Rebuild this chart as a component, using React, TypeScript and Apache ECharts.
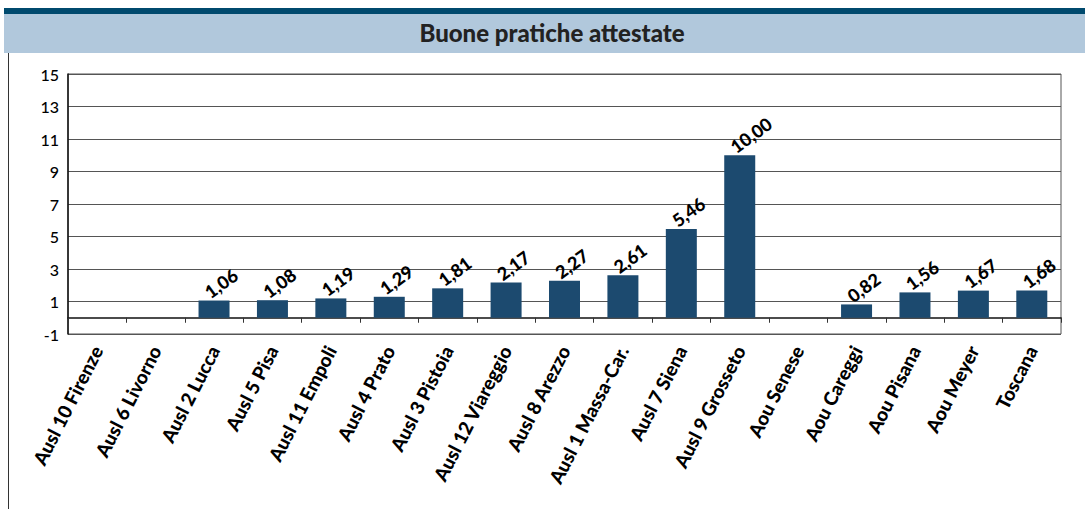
import React, { useEffect, useRef } from "react";
import * as echarts from "echarts";

const title = "Buone pratiche attestate";
const categories = [
  "Ausl 10 Firenze",
  "Ausl 6 Livorno",
  "Ausl 2 Lucca",
  "Ausl 5 Pisa",
  "Ausl 11 Empoli",
  "Ausl 4 Prato",
  "Ausl 3 Pistoia",
  "Ausl 12 Viareggio",
  "Ausl 8 Arezzo",
  "Ausl 1 Massa-Car.",
  "Ausl 7 Siena",
  "Ausl 9 Grosseto",
  "Aou Senese",
  "Aou Careggi",
  "Aou Pisana",
  "Aou Meyer",
  "Toscana",
];
const values: (number | null)[] = [
  null, null, 1.06, 1.08, 1.19, 1.29, 1.81, 2.17, 2.27, 2.61, 5.46, 10.0, null, 0.82, 1.56, 1.67, 1.68,
];
const yTicks = [-1, 1, 3, 5, 7, 9, 11, 13, 15];

const FONT = "Lato, 'DejaVu Sans', sans-serif";

export default function App() {
  const ref = useRef<HTMLDivElement>(null);
  useEffect(() => {
    if (!ref.current) return;
    const chart = echarts.init(ref.current, undefined, { renderer: "svg" });
    chart.setOption({
      animation: false,
      backgroundColor: "#ffffff",
      textStyle: { fontFamily: FONT },
      graphic: [
        { type: "rect", shape: { x: 4, y: 8, width: 1081, height: 6 }, style: { fill: "#004a6e" } },
        { type: "rect", shape: { x: 4, y: 14, width: 1081, height: 39 }, style: { fill: "#b1c8dc" } },
        { type: "line", shape: { x1: 8.5, y1: 53, x2: 8.5, y2: 509 }, style: { stroke: "#333", lineWidth: 1 } },
        {
          type: "text",
          x: 552,
          y: 32,
          style: {
            text: title,
            fontFamily: FONT,
            fontSize: 24,
            fontWeight: 900,
            fill: "#222",
            align: "center",
            verticalAlign: "middle",
          },
        },
      ],
      grid: {
        left: 68,
        right: 24,
        top: 74,
        bottom: 175,
        show: true,
        borderColor: "#555",
        borderWidth: 1,
        containLabel: false,
      },
      xAxis: {
        type: "category",
        data: categories,
        axisLine: { onZero: true, lineStyle: { color: "#111", width: 1.5 } },
        axisTick: { show: true, length: 5, lineStyle: { color: "#333" } },
        axisLabel: {
          rotate: 63,
          interval: 0,
          margin: 13,
          fontFamily: FONT,
          fontSize: 19,
          fontWeight: 900,
          color: "#000",
        },
      },
      yAxis: {
        type: "value",
        min: -1,
        max: 15,
        axisLine: { show: true, lineStyle: { color: "#111", width: 1.5 } },
        axisTick: { show: false, customValues: yTicks },
        axisLabel: {
          customValues: yTicks,
          margin: 9,
          fontFamily: FONT,
          fontSize: 16,
          fontWeight: 500,
          color: "#000",
        },
        splitLine: { show: true, lineStyle: { color: "#555", width: 1 } },
      },
      series: [
        {
          type: "bar",
          data: values.map((v) => (v === null ? "-" : v)),
          barWidth: 31,
          itemStyle: { color: "#1c4a6f" },
          label: {
            show: true,
            position: "top",
            rotate: 36,
            align: "left",
            verticalAlign: "middle",
            distance: 12,
            offset: [-9, 0],
            fontFamily: FONT,
            fontSize: 18,
            fontWeight: 900,
            color: "#000",
            formatter: (p: any) => Number(p.value).toFixed(2).replace(".", ","),
          },
        },
      ],
    });
    return () => chart.dispose();
  }, []);
  return (
    <div
      ref={ref}
      style={{ position: "fixed", left: 0, top: 0, width: 1085, height: 509 }}
    />
  );
}
